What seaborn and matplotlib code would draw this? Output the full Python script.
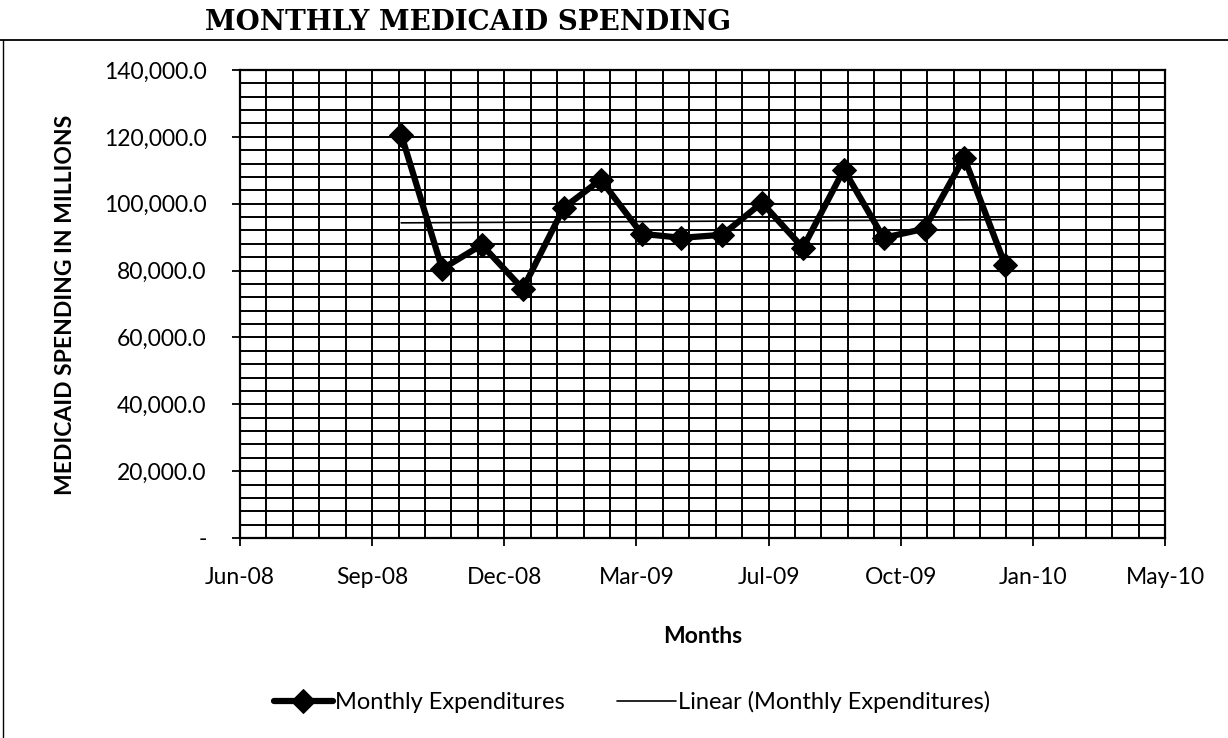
import numpy as np
import pandas as pd
import seaborn as sns
import matplotlib.pyplot as plt
import matplotlib.dates as mdates
import matplotlib.ticker as mticker
from matplotlib.lines import Line2D

# monthly medicaid spending, Oct-08 .. Jan-10
months = pd.date_range("2008-10-01", "2010-01-01", freq="MS")
spending = [120700, 80500, 87700, 74500, 98800, 107200, 91000, 89800,
            90700, 100300, 86800, 110200, 89800, 92500, 113800, 81700]

# Excel-style date axis: min Jun 1 2008, major unit 100 days, minor 20 days
axis_start = pd.Timestamp("2008-06-01")
major_days = 100
minor_days = 20
n_major = 7

y_max = 140000
y_major = 20000
y_minor = 4000

FONT = "Lato"
FS = 16.5


def fmt_y(v, pos):
    if v == 0:
        return "-"
    return "{:,.1f}".format(v)


def main():
    sns.set_theme(style="white")
    plt.rcParams["font.family"] = [FONT, "DejaVu Sans"]

    fig = plt.figure(figsize=(12.28, 7.38), dpi=100)
    ax = fig.add_axes([240 / 1228, 1 - 538 / 738, 925 / 1228, 468 / 738])

    df = pd.DataFrame({"Month": months, "Spending": spending})
    sns.lineplot(data=df, x="Month", y="Spending", ax=ax, color="black",
                 linewidth=4.5, marker="D", markersize=12, markeredgecolor="black",
                 label="Monthly Expenditures", zorder=5)

    # linear trend over the same months
    xnum = mdates.date2num(df["Month"])
    slope, icpt = np.polyfit(xnum, df["Spending"], 1)
    trend = pd.DataFrame({"Month": df["Month"], "Trend": slope * xnum + icpt})
    sns.lineplot(data=trend, x="Month", y="Trend", ax=ax, color="black",
                 linewidth=1.2, label="Linear (Monthly Expenditures)", zorder=4)

    x_end = axis_start + pd.Timedelta(days=major_days * n_major)
    ax.set_xlim(axis_start, x_end)
    ax.set_ylim(0, y_max)

    majors = pd.date_range(axis_start, x_end, freq="%dD" % major_days)
    minors = pd.date_range(axis_start, x_end, freq="%dD" % minor_days)
    ax.xaxis.set_major_locator(mticker.FixedLocator(mdates.date2num(majors)))
    ax.xaxis.set_minor_locator(mticker.FixedLocator(mdates.date2num(minors)))
    ax.xaxis.set_major_formatter(mdates.DateFormatter("%b-%y"))
    ax.yaxis.set_major_locator(mticker.MultipleLocator(y_major))
    ax.yaxis.set_minor_locator(mticker.MultipleLocator(y_minor))
    ax.yaxis.set_major_formatter(mticker.FuncFormatter(fmt_y))

    ax.grid(True, which="both", color="black", linewidth=1.4)
    ax.set_axisbelow(True)
    for s in ax.spines.values():
        s.set_color("black")
        s.set_linewidth(1.6)

    ax.tick_params(axis="both", which="major", direction="out", length=6,
                   width=1.3, color="black", labelsize=FS, colors="black")
    ax.tick_params(axis="x", which="major", pad=15)
    ax.tick_params(axis="y", which="major", pad=18)
    ax.tick_params(axis="both", which="minor", length=0)
    ax.tick_params(bottom=True, left=True)

    ax.set_xlabel("Months", fontsize=FS, fontweight="bold", color="black")
    ax.xaxis.set_label_coords(0.5, -(626 - 538) / 468)
    ax.set_ylabel("MEDICAID SPENDING IN MILLIONS", fontsize=FS,
                  fontweight="bold", color="black", va="center")
    ax.yaxis.set_label_coords(-(240 - 66) / 925, (538 - 305) / 468)

    leg = ax.legend(loc="center left", bbox_to_anchor=(262 / 1228, 1 - 702 / 738),
                    bbox_transform=fig.transFigure, ncol=2, frameon=False,
                    fontsize=17, handlelength=2.5, columnspacing=2.2,
                    handletextpad=0.1, borderpad=0)
    for t in leg.get_texts():
        t.set_color("black")

    fig.text(468 / 1228, 1 - 22 / 738, "MONTHLY MEDICAID SPENDING",
             ha="center", va="center", fontsize=20, fontweight="bold",
             family="DejaVu Serif", color="black")

    # chart-area frame (top and left edges are what shows in the scan)
    fig.add_artist(Line2D([0, 1], [1 - 40 / 738] * 2, color="black",
                          linewidth=1.3, transform=fig.transFigure))
    fig.add_artist(Line2D([3 / 1228] * 2, [0, 1 - 40 / 738], color="black",
                          linewidth=1.0, transform=fig.transFigure))

    fig.savefig("out.png", dpi=100, facecolor="white")


if __name__ == "__main__":
    main()
